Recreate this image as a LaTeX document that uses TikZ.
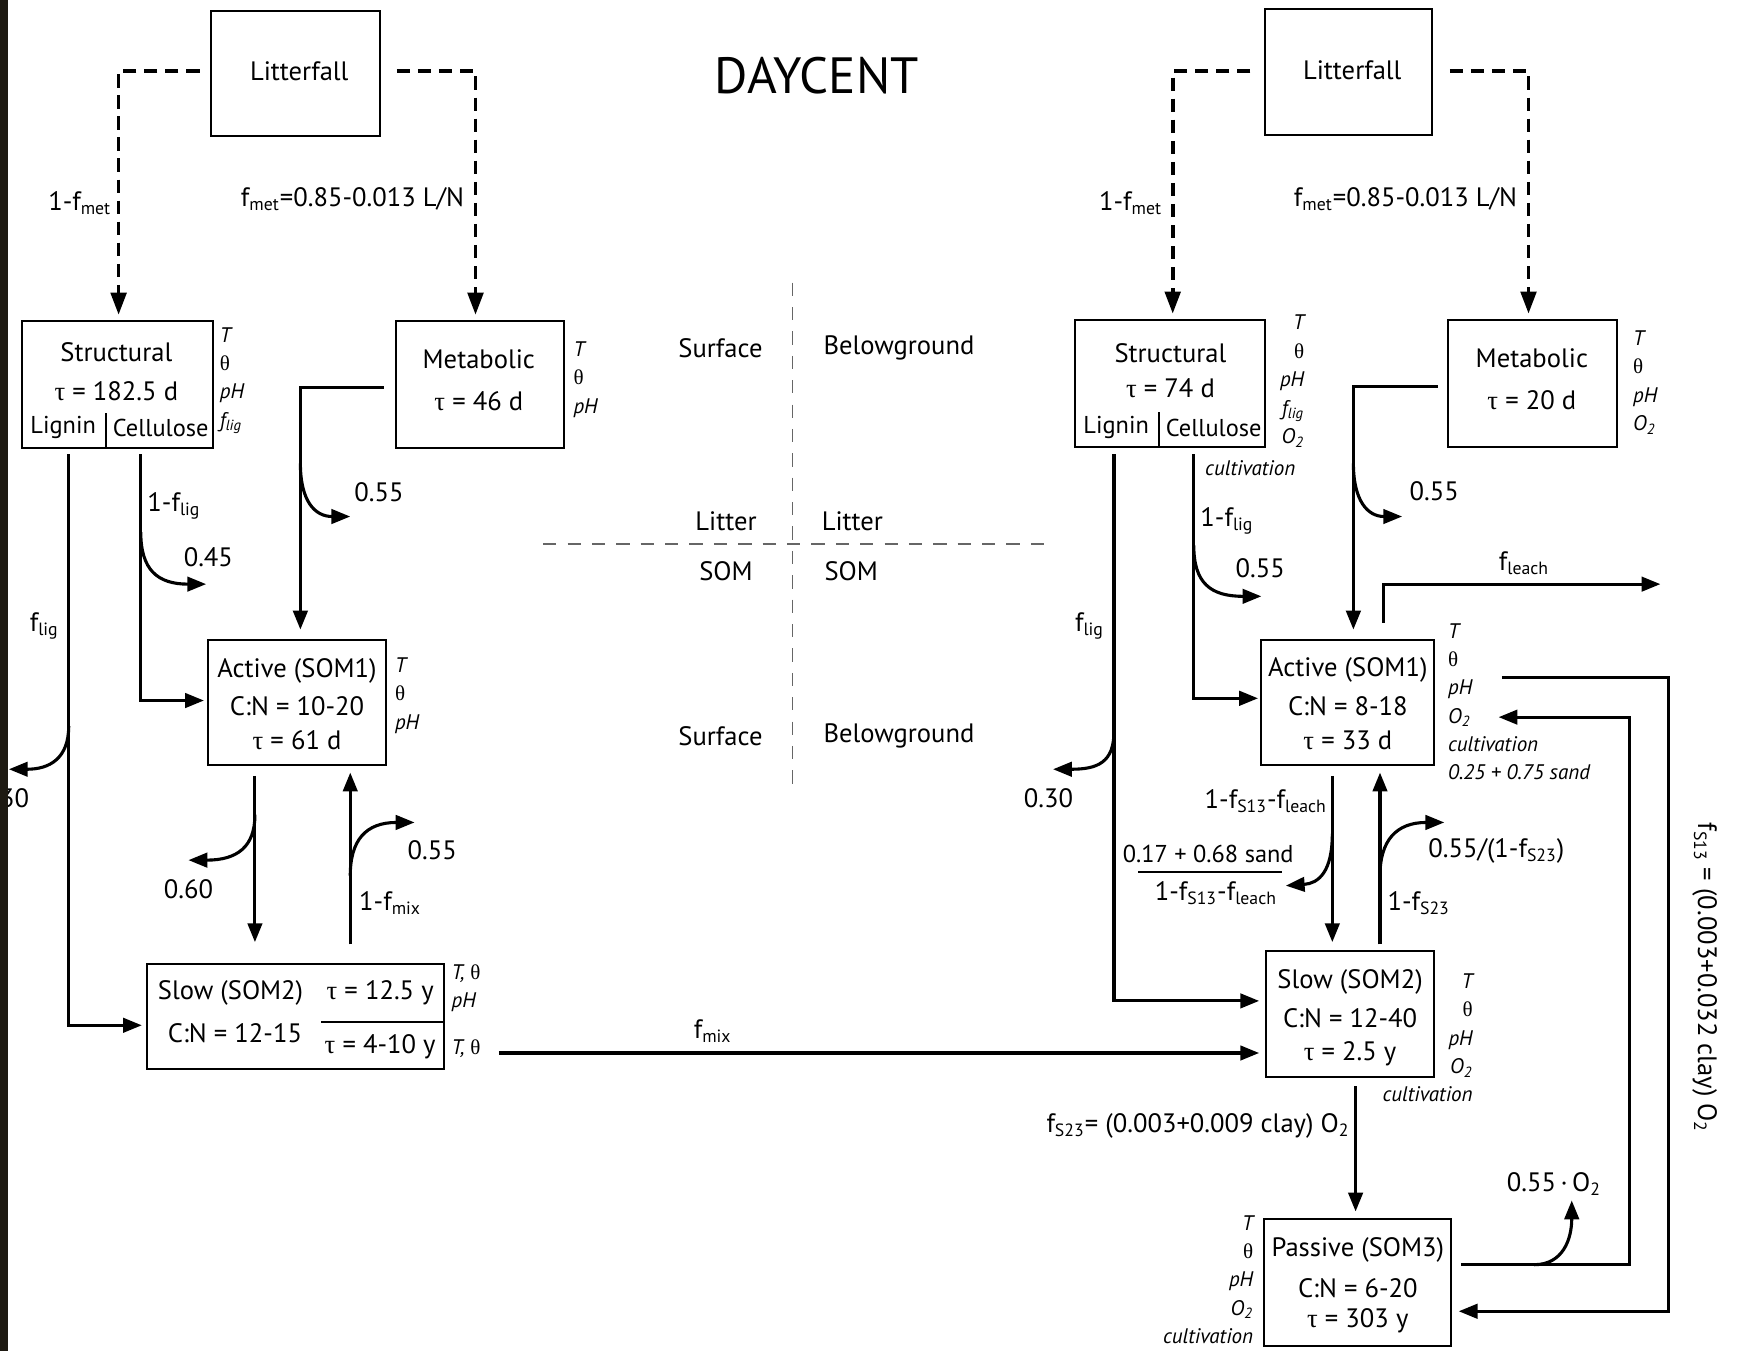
\documentclass[tikz,border=0pt]{standalone}
\usepackage{fontspec}
\setmainfont{PT Sans}
\newfontfamily\grk{Liberation Serif}
\usetikzlibrary{arrows.meta,fit}
\newcommand\tu{{\grk\upshape τ}}
\newcommand\thx{{\grk\upshape θ}}
\newcommand\sbs[1]{\textsubscript{#1}}
\begin{document}
\begin{tikzpicture}[x=0.5pt,y=-0.5pt,
  box/.style={draw, line width=0.9pt, inner sep=0pt},
  lbl/.style={font=\fontsize{12}{14}\selectfont, inner sep=0pt},
  lbs/.style={font=\fontsize{11}{13}\selectfont, inner sep=0pt},
  sml/.style={font=\itshape\fontsize{9.5}{12.8}\selectfont, inner sep=0pt},
  stackl/.style={sml, align=left, anchor=north west},
  stackr/.style={sml, align=right, anchor=north east},
  arr/.style={line width=1.4pt, -{Triangle[length=8.5pt,width=6.5pt]}},
  dsh/.style={line width=1.7pt, dash pattern=on 6pt off 3.5pt, -{Triangle[length=10pt,width=7pt]}},
  guide/.style={line width=0.7pt, black!60, dash pattern=on 6pt off 5pt}
]
\useasboundingbox (0,0) rectangle (1568,1219);

% ---------------- title and guides
\node[font=\fontsize{23}{26}\selectfont, inner sep=0] (title) at (737,68) {DAYCENT};
\draw[guide] (715,255) -- (715,715);
\draw[guide] (490,491) -- (948,491);
\node[lbl] (s1) at (650,314) {Surface};
\node[lbl] (b1) at (811,314) {Belowground};
\node[lbl] (l1) at (655,470) {Litter};
\node[lbl] (l2) at (769,470) {Litter};
\node[lbl] (m1) at (655,515) {SOM};
\node[lbl] (m2) at (768,515) {SOM};
\node[lbl] (s2) at (650,664) {Surface};
\node[lbl] (b2) at (811,664) {Belowground};

% ================= LEFT MODEL
\node[box, fit={(190,10)(343,123)}] (litL) {};
\node[lbl] (litLt) at (270,64) {Litterfall};
\draw[dsh] (180,64) -- (107,64) -- (107,284);
\draw[dsh] (358,64) -- (429,64) -- (429,284);
\node[lbl] (fmL1) at (72,183) {1-f\sbs{met}};
\node[lbl] (fmL2) at (318,180) {f\sbs{met}=0.85-0.013 L/N};

% Structural
\node[box, fit={(20,290)(192,404)}] (strL) {};
\draw[line width=0.9pt] (96,373) -- (96,404);
\node[lbl] (strLa) at (105,318) {Structural};
\node[lbl] (strLb) at (105,353) {\tu\ = 182.5 d};
\node[lbs] (strLc) at (57,386) {Lignin};
\node[lbs] (strLd) at (145,386) {Cellulose};
\node[stackl] (strLs) at (198,295) {T\\\thx\\pH\\f\sbs{lig}};

% Metabolic
\node[box, fit={(357,290)(509,404)}] (metL) {};
\node[lbl] (metLa) at (432,324) {Metabolic};
\node[lbl] (metLb) at (432,362) {\tu\ = 46 d};
\node[stackl] (metLs) at (517,308) {T\\\thx\\pH};

% Active
\node[box, fit={(188,577)(348,690)}] (actL) {};
\node[lbl] (actLa) at (268,605) {Active (SOM1)};
\node[lbl] (actLb) at (268,637) {C:N = 10-20};
\node[lbl] (actLc) at (268,668) {\tu\ = 61 d};
\node[stackl] (actLs) at (356,593) {T\\\thx\\pH};

% Slow
\node[box, fit={(133,870)(401,964)}] (slwL) {};
\node[lbl] (slwLa) at (208,896) {Slow (SOM2)};
\node[lbl] (slwLb) at (212,932) {C:N = 12-15};
\node[lbl] (slwLc) at (343,896) {\tu\ = 12.5 y};
\node[lbl] (slwLd) at (343,944) {\tu\ = 4-10 y};
\draw[line width=0.9pt] (290,922) -- (slwL.east |- 0,922);
\node[stackl] (slwLs) at (407,870) {T, \thx\\pH};
\node[sml, anchor=west] (slwLt) at (407,946) {T, \thx};

% flows left
\draw[arr] (metL.west |- 0,350) ++(-10,0) -- (271,350) -- (271,568);
\draw[arr] (271,418) .. controls (271,452) and (284,466) .. (316,466);
\node[lbl] (p55a) at (342,444) {0.55};

\draw[arr] (127,410) -- (127,632) -- (184,632);
\draw[arr] (127,480) .. controls (127,514) and (142,527) .. (186,527);
\node[lbl] (p45) at (188,503) {0.45};
\node[lbl] (flL1) at (157,456) {1-f\sbs{lig}};

\draw[arr] (62,410) -- (62,925) -- (128,925);
\draw[arr] (62,655) .. controls (62,684) and (45,694) .. (8,694);
\node[lbl] (flL2) at (40,565) {f\sbs{lig}};
\node[lbl] (p30L) at (4,720) {0.30};

\draw[arr] (230,700) -- (230,850);
\draw[arr] (230,735) .. controls (230,764) and (214,776) .. (170,776);
\node[lbl] (p60) at (170,802) {0.60};

\draw[arr] (316,852) -- (316,697);
\draw[arr] (316,790) .. controls (316,758) and (330,742) .. (374,742);
\node[lbl] (p55b) at (390,767) {0.55};
\node[lbl] (fmix1) at (352,815) {1-f\sbs{mix}};

% ================= RIGHT MODEL
\node[box, fit={(1141,8)(1292,122)}] (litR) {};
\node[lbl] (litRt) at (1220,63) {Litterfall};
\draw[dsh] (1128,64) -- (1058,64) -- (1058,283);
\draw[dsh] (1308,64) -- (1379,64) -- (1379,283);
\node[lbl] (fmR1) at (1020,183) {1-f\sbs{met}};
\node[lbl] (fmR2) at (1268,180) {f\sbs{met}=0.85-0.013 L/N};

% Structural
\node[box, fit={(970,289)(1141,403)}] (strR) {};
\draw[line width=0.9pt] (1046,372) -- (1046,403);
\node[lbl] (strRa) at (1056,319) {Structural};
\node[lbl] (strRb) at (1056,350) {\tu\ = 74 d};
\node[lbs] (strRc) at (1007,386) {Lignin};
\node[lbs] (strRd) at (1095,386) {Cellulose};
\node[stackr] (strRs) at (1177,284) {T\\\thx\\pH\\f\sbs{lig}\\O\sbs{2}};
\node[sml] (strRcu) at (1128,422) {cultivation};

% Metabolic
\node[box, fit={(1306,289)(1459,403)}] (metR) {};
\node[lbl] (metRa) at (1382,323) {Metabolic};
\node[lbl] (metRb) at (1382,361) {\tu\ = 20 d};
\node[stackl] (metRs) at (1473,298) {T\\\thx\\pH\\O\sbs{2}};

% Active
\node[box, fit={(1138,577)(1294,690)}] (actR) {};
\node[lbl] (actRa) at (1216,604) {Active (SOM1)};
\node[lbl] (actRb) at (1216,637) {C:N = 8-18};
\node[lbl] (actRc) at (1216,668) {\tu\ = 33 d};
\node[stackl] (actRs) at (1306,562) {T\\\thx\\pH\\O\sbs{2}\\cultivation\\0.25 + 0.75 sand};

% Slow
\node[box, fit={(1142,858)(1294,972)}] (slwR) {};
\node[lbl] (slwRa) at (1218,886) {Slow (SOM2)};
\node[lbl] (slwRb) at (1218,919) {C:N = 12-40};
\node[lbl] (slwRc) at (1218,951) {\tu\ = 2.5 y};
\node[stackr] (slwRs) at (1329,878) {T\\\thx\\pH\\O\sbs{2}\\cultivation};

% Passive
\node[box, fit={(1140,1100)(1309,1214)}] (pasR) {};
\node[lbl] (pasRa) at (1225,1128) {Passive (SOM3)};
\node[lbl] (pasRb) at (1225,1162) {C:N = 6-20};
\node[lbl] (pasRc) at (1225,1192) {\tu\ = 303 y};
\node[stackr] (pasRs) at (1131,1096) {T\\\thx\\pH\\O\sbs{2}\\cultivation};

% flows right
\draw[arr] (1297,349) -- (1221,349) -- (1221,568);
\draw[arr] (1221,418) .. controls (1221,452) and (1234,466) .. (1265,466);
\node[lbl] (p55c) at (1294,443) {0.55};

\draw[arr] (1077,410) -- (1077,630) -- (1135,630);
\draw[arr] (1077,492) .. controls (1077,526) and (1092,538) .. (1138,538);
\node[lbl] (p55d) at (1137,513) {0.55};
\node[lbl] (flR1) at (1107,470) {1-f\sbs{lig}};

\draw[arr] (1005,410) -- (1005,903) -- (1136,903);
\draw[arr] (1005,660) .. controls (1005,688) and (990,694) .. (950,694);
\node[lbl] (flR2) at (983,565) {f\sbs{lig}};
\node[lbl] (p30R) at (946,720) {0.30};

\draw[arr] (1248,562) -- (1248,527) -- (1498,527);
\node[lbl] (fle) at (1375,508) {f\sbs{leach}};

\draw[arr] (1202,700) -- (1202,850);
\draw[arr] (1202,752) .. controls (1202,786) and (1190,797) .. (1160,799);
\node[lbl] (fs13a) at (1142,723) {1-f\sbs{S13}-f\sbs{leach}};
\node[lbs] (frn) at (1090,770) {0.17 + 0.68 sand};
\draw[line width=0.8pt] (1027,787) -- (1157,787);
\node[lbl] (frd) at (1097,806) {1-f\sbs{S13}-f\sbs{leach}};

\draw[arr] (1245,852) -- (1245,697);
\draw[arr] (1245,790) .. controls (1245,758) and (1260,742) .. (1303,742);
\node[lbl] (p55e) at (1350,768) {0.55/(1-f\sbs{S23})};
\node[lbl] (fs23a) at (1280,815) {1-f\sbs{S23}};

\draw[arr] (450,950) -- (1136,950);
\node[lbl] (fmix2) at (643,930) {f\sbs{mix}};

\draw[arr] (1223,980) -- (1223,1093);
\node[lbl, anchor=east] (fs23b) at (1218,1016) {f\sbs{S23}= (0.003+0.009 clay) O\sbs{2}};

\draw[arr] (1355,611) -- (1505,611) -- (1505,1183) -- (1316,1183);
\node[lbl, rotate=-90] (fs13b) at (1538,882) {f\sbs{S13} = (0.003+0.032 clay) O\sbs{2}};

\draw[arr] (1318,1141) -- (1470,1141) -- (1470,647) -- (1352,647);
\draw[arr] (1384,1141) .. controls (1410,1141) and (1418,1118) .. (1418,1083);
\node[lbl] (p55f) at (1402,1068) {0.55\,·\,O\sbs{2}};

% dark edge strip
\fill[fill={rgb,255:red,30;green,26;blue,18}] (0,0) rectangle (7,1219);
\end{tikzpicture}
\end{document}
